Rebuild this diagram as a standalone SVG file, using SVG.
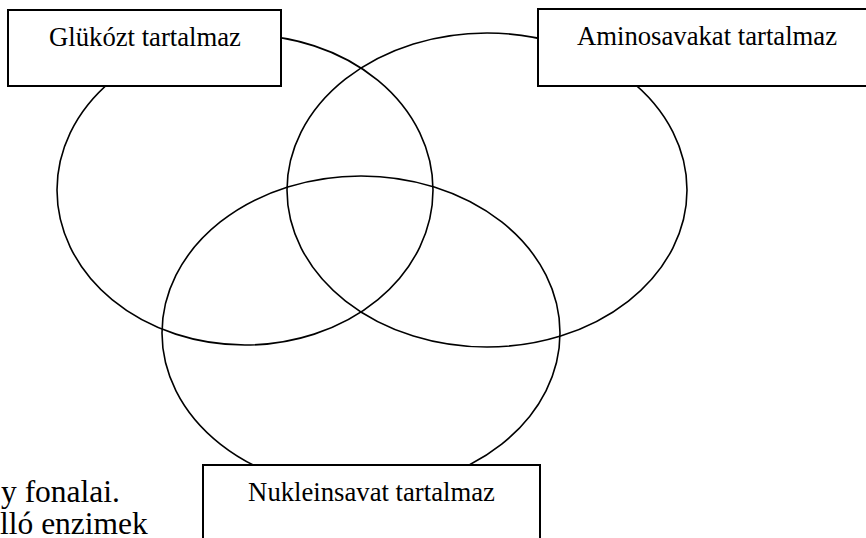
<svg xmlns="http://www.w3.org/2000/svg" width="866" height="538" viewBox="0 0 866 538">
<style>
.set{fill:none;stroke:#000;stroke-width:1.6}
.box{fill:#fff;stroke:#000;stroke-width:2}
.lbl{font-family:"Liberation Serif","Times New Roman",serif;font-size:26.7px;fill:#000;text-anchor:middle}
.body{font-family:"Liberation Serif","Times New Roman",serif;font-size:31.5px;fill:#000}
</style>
<rect width="866" height="538" fill="#fff"/>
<g id="sets">
<ellipse id="set-glukoz" class="set" cx="245" cy="190" rx="188" ry="155"/>
<ellipse id="set-amino" class="set" cx="487" cy="190" rx="200" ry="157"/>
<ellipse id="set-nuklein" class="set" cx="361" cy="333" rx="199" ry="157"/>
</g>
<g id="body-text">
<text class="body" x="1" y="502">y fonalai.</text>
<text class="body" x="0" y="534">lló enzimek</text>
</g>
<g id="node-glukoz">
<rect class="box" x="8" y="10" width="273" height="76"/>
<text class="lbl" x="145" y="46">Glükózt tartalmaz</text>
</g>
<g id="node-amino">
<rect class="box" x="538" y="9" width="338" height="77"/>
<text class="lbl" x="707" y="45">Aminosavakat tartalmaz</text>
</g>
<g id="node-nuklein">
<rect class="box" x="203" y="465" width="337" height="90"/>
<text class="lbl" x="371.5" y="501">Nukleinsavat tartalmaz</text>
</g>
</svg>
